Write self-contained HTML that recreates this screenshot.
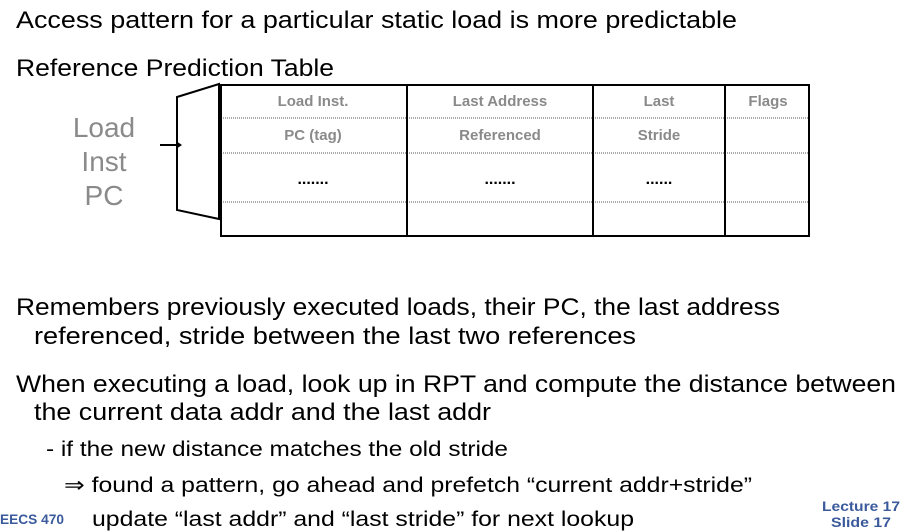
<!DOCTYPE html>
<html><head><meta charset="utf-8"><style>
html,body{margin:0;padding:0;background:#fff;width:901px;height:532px;overflow:hidden}
svg{display:block;font-family:"Liberation Sans",sans-serif}
</style></head><body>
<svg width="901" height="532" viewBox="0 0 901 532">
<g fill="#000" font-size="24">
<text x="16" y="28" textLength="721" lengthAdjust="spacingAndGlyphs">Access pattern for a particular static load is more predictable</text>
<text x="16" y="76" textLength="318" lengthAdjust="spacingAndGlyphs">Reference Prediction Table</text>
<text x="16" y="315" textLength="764" lengthAdjust="spacingAndGlyphs">Remembers previously executed loads, their PC, the last address</text>
<text x="34" y="344" textLength="602" lengthAdjust="spacingAndGlyphs">referenced, stride between the last two references</text>
<text x="16" y="392" textLength="880" lengthAdjust="spacingAndGlyphs">When executing a load, look up in RPT and compute the distance between</text>
<text x="34" y="420" textLength="457" lengthAdjust="spacingAndGlyphs">the current data addr and the last addr</text>
</g>
<g fill="#000" font-size="21">
<text x="46" y="456" textLength="462" lengthAdjust="spacingAndGlyphs">- if the new distance matches the old stride</text>
<text x="64" y="492" textLength="688" lengthAdjust="spacingAndGlyphs">⇒ found a pattern, go ahead and prefetch “current addr+stride”</text>
<text x="92" y="526" textLength="542" lengthAdjust="spacingAndGlyphs">update “last addr” and “last stride” for next lookup</text>
</g>
<g fill="#8a8a8a" font-size="28" text-anchor="middle">
<text x="104" y="137">Load</text>
<text x="104" y="171">Inst</text>
<text x="104" y="205">PC</text>
</g>
<g fill="none" stroke="#000" stroke-width="2">
<polygon points="177,97 219,84 219,219 177,210"/>
<line x1="160" y1="145" x2="176" y2="145"/>
<polygon points="176,141 182,145 176,149" fill="#000" stroke="none"/>
</g>
<g>
<g stroke="#555" stroke-width="1" stroke-dasharray="1,1">
<line x1="221" y1="118" x2="809" y2="118"/>
<line x1="221" y1="153" x2="809" y2="153"/>
<line x1="221" y1="202" x2="809" y2="202"/>
</g>
<g stroke="#000" stroke-width="2" fill="none">
<rect x="221" y="85" width="588" height="151"/>
<line x1="407" y1="85" x2="407" y2="236"/>
<line x1="593" y1="85" x2="593" y2="236"/>
<line x1="725" y1="85" x2="725" y2="236"/>
</g>
<g fill="#8a8a8a" font-size="15" font-weight="bold" text-anchor="middle">
<text x="313" y="106">Load Inst.</text>
<text x="500" y="106">Last Address</text>
<text x="659" y="106">Last</text>
<text x="768" y="106">Flags</text>
<text x="313" y="140">PC (tag)</text>
<text x="500" y="140">Referenced</text>
<text x="659" y="140">Stride</text>
</g>
<g fill="#000" font-size="16" font-weight="bold" text-anchor="middle">
<text x="313" y="184">.......</text>
<text x="500" y="184">.......</text>
<text x="659" y="184">......</text>
</g>
</g>
<g fill="#3a5a9c" font-weight="bold" font-size="14">
<text x="0" y="524" textLength="64" lengthAdjust="spacingAndGlyphs">EECS 470</text>
<text x="822" y="511" textLength="78" lengthAdjust="spacingAndGlyphs">Lecture 17</text>
<text x="831" y="527" textLength="60" lengthAdjust="spacingAndGlyphs">Slide 17</text>
</g>
</svg>
</body></html>
